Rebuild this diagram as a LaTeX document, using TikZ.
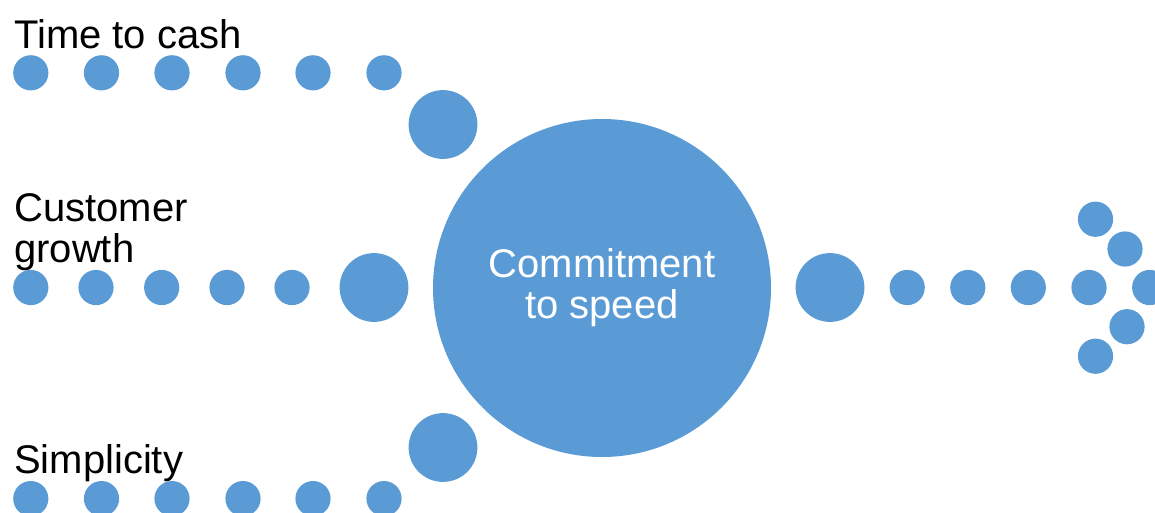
\documentclass[tikz,border=0pt]{standalone}
\usepackage{fontspec}
\setmainfont{Liberation Sans}
\definecolor{dotblue}{HTML}{5B9BD5}
\begin{document}
\begin{tikzpicture}[x=1pt,y=-1pt,
  dot/.style={circle,fill=dotblue,draw=none,inner sep=0pt,minimum size=35.2pt},
  middot/.style={circle,fill=dotblue,draw=none,inner sep=0pt,minimum size=68.8pt},
  hub/.style={circle,fill=dotblue,draw=none,inner sep=0pt,minimum size=338pt,
    text=white,align=center,font=\fontsize{40}{41}\selectfont},
  label/.style={anchor=base west,inner sep=0pt,align=left,text=black,
    font=\fontsize{40}{41}\selectfont}]
\useasboundingbox (0,0) rectangle (1155,512);

% central hub
\node[hub] (hub) at (602,288) {Commitment\\to speed};

% upper stream
\node[label] (l1) at (14,48) {Time to cash};
\foreach \i/\x in {1/30.8,2/101.5,3/172,4/243,5/313,6/384}
  \node[dot] (a\i) at (\x,72.8) {};
\node[middot] (am) at (443,124.5) {};

% middle stream (label anchored on its last line)
\node[label] (l2) at (14,262) {Customer\\growth};
\foreach \i/\x in {1/30.8,2/96,3/161.7,4/227,5/292}
  \node[dot] (b\i) at (\x,287.5) {};
\node[middot] (bm) at (374,287.5) {};

% lower stream
\node[label] (l3) at (14,473) {Simplicity};
\foreach \i/\x in {1/30.8,2/101.5,3/172,4/243,5/313,6/384}
  \node[dot] (c\i) at (\x,498.6) {};
\node[middot] (cm) at (443,447.5) {};

% outgoing arrow
\node[middot] (om) at (830,287.5) {};
\foreach \i/\x in {1/907.2,2/967.8,3/1028.3,4/1089,5/1149.7}
  \node[dot] (o\i) at (\x,287.5) {};
\node[dot] (h1) at (1095.5,219.2) {};
\node[dot] (h2) at (1125,249) {};
\node[dot] (h3) at (1127,326.7) {};
\node[dot] (h4) at (1095.5,356.2) {};
\end{tikzpicture}
\end{document}
